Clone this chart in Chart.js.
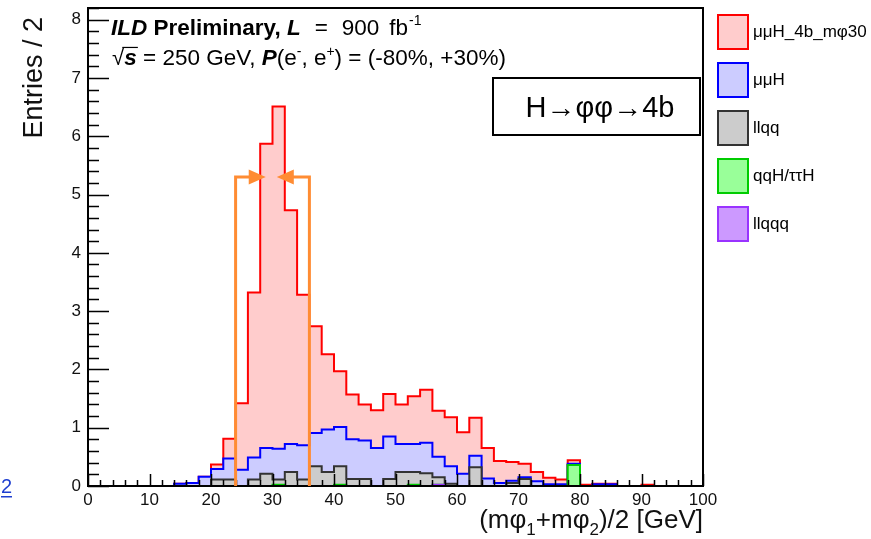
<!DOCTYPE html>
<html>
<head>
<meta charset="utf-8">
<script src="https://cdn.jsdelivr.net/npm/chart.js@4.4.1/dist/chart.umd.min.js"></script>
<style>
  html, body { margin: 0; padding: 0; background: #fff; }
  #wrap { position: relative; width: 871px; height: 539px; }
</style>
</head>
<body>
<div id="wrap"><canvas id="chart" width="871" height="539"></canvas></div>
<script>
// ILD stacked histogram: (mphi1 + mphi2)/2, 2 GeV bins, ROOT look

const FONT = "'Liberation Sans', Arial, Helvetica, sans-serif";

// low edge of each 2 GeV bin
const BIN_LOW = [
  0, 2, 4, 6, 8, 10, 12, 14, 16, 18,
  20, 22, 24, 26, 28, 30, 32, 34, 36, 38,
  40, 42, 44, 46, 48, 50, 52, 54, 56, 58,
  60, 62, 64, 66, 68, 70, 72, 74, 76, 78,
  80, 82, 84, 86, 88, 90, 92, 94, 96, 98
];
const BIN_WIDTH = 2;

// entries per bin, one array per sample (not stacked)
const SIGNAL = [
  0, 0, 0, 0, 0, 0, 0, 0, 0, 0,
  0.08, 0.34, 1.14, 2.83, 5.22, 5.87, 4.01, 2.58, 1.83, 1.29,
  0.96, 0.77, 0.62, 0.65, 0.73, 0.68, 0.82, 0.91, 0.79, 0.84,
  0.71, 0.65, 0.52, 0.38, 0.32, 0.23, 0.16, 0.11, 0.08, 0.06,
  0.02, 0.01, 0.01, 0, 0, 0.02, 0, 0, 0, 0
];
const MUMUH = [
  0, 0, 0, 0, 0, 0, 0, 0.04, 0.05, 0.16,
  0.18, 0.36, 0.28, 0.38, 0.44, 0.53, 0.48, 0.59, 0.57, 0.73,
  0.67, 0.68, 0.66, 0.65, 0.73, 0.48, 0.48, 0.52, 0.35, 0.30,
  0.21, 0.20, 0.13, 0.05, 0.04, 0.03, 0.08, 0.03, 0.03, 0.02,
  0, 0.03, 0.03, 0, 0, 0, 0, 0, 0, 0
];
const LLQQ = [
  0, 0, 0, 0, 0, 0, 0, 0, 0, 0,
  0.11, 0.11, 0, 0.11, 0.21, 0.09, 0.24, 0.11, 0.34, 0.24,
  0.32, 0.12, 0.12, 0, 0.12, 0.24, 0.22, 0.22, 0.13, 0.04,
  0, 0.32, 0, 0, 0.05, 0.12, 0, 0, 0, 0,
  0, 0, 0, 0, 0, 0, 0, 0, 0, 0
];
const QQH = [
  0, 0, 0, 0, 0, 0, 0, 0, 0, 0,
  0, 0, 0, 0, 0, 0.02, 0, 0, 0, 0,
  0.02, 0, 0, 0, 0, 0, 0.02, 0, 0, 0,
  0, 0, 0, 0, 0, 0, 0, 0, 0, 0.36,
  0, 0, 0, 0, 0, 0, 0, 0, 0, 0
];
const LLQQQ = [
  0, 0, 0, 0, 0, 0, 0, 0, 0, 0,
  0, 0, 0, 0, 0, 0, 0, 0, 0, 0,
  0, 0, 0, 0, 0, 0, 0, 0, 0.02, 0,
  0, 0, 0, 0, 0, 0, 0, 0, 0, 0,
  0, 0, 0, 0, 0, 0, 0, 0, 0, 0
];

const X_MIN = 0, X_MAX = 100;
const Y_MIN = 0, Y_MAX = 8.2;

// mass window cut and its arrows
const CUT_LOW = 24;
const CUT_HIGH = 36;
const CUT_ARROW_Y = 5.3;
const ARROW_TIP_LOW = 28.9;
const ARROW_TIP_HIGH = 30.7;

// stack order bottom -> top
const SAMPLES = [
  { label: 'llqqq',       values: LLQQQ,  line: '#9933ff', fill: '#cc99ff' },
  { label: 'qqH/ττH',     values: QQH,    line: '#00cc00', fill: '#99ff99' },
  { label: 'llqq',        values: LLQQ,   line: '#333333', fill: '#cccccc' },
  { label: 'μμH',         values: MUMUH,  line: '#0000ff', fill: '#ccccff' },
  { label: 'μμH_4b_mφ30', values: SIGNAL, line: '#ff0000', fill: '#ffcccc' },
];

function stepPoints(values) {
  const pts = BIN_LOW.map((x, i) => ({ x, y: values[i] }));
  pts.push({ x: BIN_LOW[BIN_LOW.length - 1] + BIN_WIDTH, y: values[values.length - 1] });
  return pts;
}

const datasets = SAMPLES.map((s, i) => ({
  label: s.label,
  data: stepPoints(s.values),
  stepped: true,
  borderColor: s.line,
  backgroundColor: s.fill,
  borderWidth: 2,
  pointRadius: 0,
  fill: i === 0 ? 'origin' : '-1',
}));

// draws a run of text pieces with their own fonts / shifts / extra gap
function drawPieces(ctx, x, baseline, pieces, measureOnly) {
  let cx = x;
  for (const p of pieces) {
    ctx.font = p.font;
    cx += p.gap || 0;
    if (!measureOnly) ctx.fillText(p.t, cx, baseline + (p.dy || 0));
    cx += ctx.measureText(p.t).width;
  }
  return cx - x;
}

const rootStyle = {
  id: 'rootStyle',
  afterDraw(chart) {
    const { ctx, chartArea: a, scales: { x, y } } = chart;
    ctx.save();

    // ticks (inside the frame)
    ctx.strokeStyle = '#000';
    ctx.lineWidth = 1.5;
    ctx.beginPath();
    for (let k = 0; k <= 41; k++) {
      const v = k * 0.2;
      if (v > Y_MAX + 1e-6) break;
      const py = Math.round(y.getPixelForValue(v)) + 0.5;
      const len = k % 5 === 0 ? 21 : 11;
      ctx.moveTo(a.left, py);
      ctx.lineTo(a.left + len, py);
    }
    for (let k = 0; k <= 50; k++) {
      const px = Math.round(x.getPixelForValue(k * 2)) + 0.5;
      const len = k % 5 === 0 ? 12 : 6;
      ctx.moveTo(px, a.bottom);
      ctx.lineTo(px, a.bottom - len);
    }
    ctx.stroke();

    // frame
    ctx.lineWidth = 2;
    ctx.strokeStyle = '#000';
    ctx.strokeRect(a.left, a.top, a.right - a.left, a.bottom - a.top);

    // mass window cut
    const xl = x.getPixelForValue(CUT_LOW);
    const xh = x.getPixelForValue(CUT_HIGH);
    const ya = y.getPixelForValue(CUT_ARROW_Y);
    const y0 = y.getPixelForValue(0);
    const tl = x.getPixelForValue(ARROW_TIP_LOW);
    const th = x.getPixelForValue(ARROW_TIP_HIGH);
    ctx.strokeStyle = '#ff8c33';
    ctx.fillStyle = '#ff8c33';
    ctx.lineWidth = 3;
    ctx.beginPath();
    ctx.moveTo(xl, y0); ctx.lineTo(xl, ya); ctx.lineTo(tl - 10, ya);
    ctx.moveTo(xh, y0); ctx.lineTo(xh, ya); ctx.lineTo(th + 10, ya);
    ctx.stroke();
    ctx.beginPath();
    ctx.moveTo(tl, ya); ctx.lineTo(tl - 17, ya - 7.5); ctx.lineTo(tl - 17, ya + 7.5); ctx.closePath();
    ctx.moveTo(th, ya); ctx.lineTo(th + 17, ya - 7.5); ctx.lineTo(th + 17, ya + 7.5); ctx.closePath();
    ctx.fill();

    // header text
    ctx.fillStyle = '#000';
    ctx.textAlign = 'left';
    ctx.textBaseline = 'alphabetic';
    const fs = 22.5;
    const nrm = `${fs}px ${FONT}`;
    const bld = `bold ${fs}px ${FONT}`;
    const bi = `italic bold ${fs}px ${FONT}`;
    const sup = `${Math.round(fs * 0.62)}px ${FONT}`;
    drawPieces(ctx, 111, 35, [
      { t: 'ILD', font: bi },
      { t: ' Preliminary, ', font: bld },
      { t: 'L', font: bi },
      { t: '=', font: nrm, gap: 14 },
      { t: '900', font: nrm, gap: 14 },
      { t: 'fb', font: nrm, gap: 10 },
      { t: '-1', font: sup, dy: -10, gap: 1 },
    ]);
    const w0 = drawPieces(ctx, 112, 65, [{ t: '√', font: nrm }]);
    const ws = drawPieces(ctx, 112 + w0, 65, [{ t: 's', font: bi }]);
    ctx.lineWidth = 1.2;
    ctx.strokeStyle = '#000';
    ctx.beginPath();
    ctx.moveTo(112 + w0 - 2, 65 - fs * 0.78);
    ctx.lineTo(112 + w0 + ws + 1, 65 - fs * 0.78);
    ctx.stroke();
    drawPieces(ctx, 112 + w0 + ws, 65, [
      { t: ' = 250 GeV, ', font: nrm },
      { t: 'P', font: bi },
      { t: '(e', font: nrm },
      { t: '-', font: sup, dy: -9 },
      { t: ', e', font: nrm },
      { t: '+', font: sup, dy: -9 },
      { t: ') = (-80%, +30%)', font: nrm },
    ]);

    // decay label box
    ctx.lineWidth = 2;
    ctx.strokeRect(493, 78, 207, 57);
    ctx.font = `29px ${FONT}`;
    ctx.textAlign = 'center';
    ctx.fillText('H→φφ→4b', 600, 117);

    // y title
    ctx.save();
    ctx.translate(42, 17);
    ctx.rotate(-Math.PI / 2);
    ctx.textAlign = 'right';
    ctx.font = `27px ${FONT}`;
    ctx.fillStyle = '#111';
    ctx.fillText('Entries / 2', 0, 0);
    ctx.restore();

    // x title, right aligned to the axis end
    ctx.textAlign = 'left';
    ctx.fillStyle = '#111';
    const xf = `26px ${FONT}`;
    const xs = `17px ${FONT}`;
    const xPieces = [
      { t: '(mφ', font: xf },
      { t: '1', font: xs, dy: 7 },
      { t: '+mφ', font: xf },
      { t: '2', font: xs, dy: 7 },
      { t: ')/2 [GeV]', font: xf },
    ];
    const xw = drawPieces(ctx, 0, 0, xPieces, true);
    drawPieces(ctx, a.right - xw, 528, xPieces);

    // legend (top sample first)
    const legend = SAMPLES.slice().reverse();
    ctx.font = `17px ${FONT}`;
    ctx.textBaseline = 'middle';
    legend.forEach((s, i) => {
      const by = 15 + i * 48;
      ctx.fillStyle = s.fill;
      ctx.fillRect(718, by, 30, 34);
      ctx.strokeStyle = s.line;
      ctx.lineWidth = 2;
      ctx.strokeRect(718, by, 30, 34);
      ctx.fillStyle = '#000';
      ctx.fillText(s.label, 753, by + 17);
    });

    // stray slide page number at the left edge
    ctx.fillStyle = '#1f3fd0';
    ctx.font = `20px ${FONT}`;
    ctx.textBaseline = 'alphabetic';
    ctx.fillText('2', 1, 493);
    ctx.fillRect(1, 496, 11, 1.5);

    ctx.restore();
  }
};

new Chart(document.getElementById('chart'), {
  type: 'line',
  data: { datasets },
  options: {
    responsive: false,
    animation: false,
    events: [],
    layout: { padding: { left: 0, top: 8, right: 168, bottom: 0 } },
    plugins: { legend: { display: false }, tooltip: { enabled: false } },
    scales: {
      x: {
        type: 'linear',
        min: X_MIN,
        max: X_MAX,
        grid: { display: false, drawTicks: false },
        border: { display: false },
        ticks: {
          stepSize: 10, autoSkip: false, maxRotation: 0, padding: 4,
          color: '#111', font: { family: FONT, size: 17 }
        },
        afterFit: s => { s.height = 53; s.paddingLeft = 0; s.paddingRight = 0; }
      },
      y: {
        stacked: true,
        min: Y_MIN,
        max: Y_MAX,
        grid: { display: false, drawTicks: false },
        border: { display: false },
        ticks: {
          stepSize: 1, includeBounds: false, padding: 7,
          color: '#111', font: { family: FONT, size: 17 }
        },
        afterFit: s => { s.width = 88; s.paddingTop = 0; s.paddingBottom = 0; }
      }
    }
  },
  plugins: [rootStyle]
});
</script>
</body>
</html>
